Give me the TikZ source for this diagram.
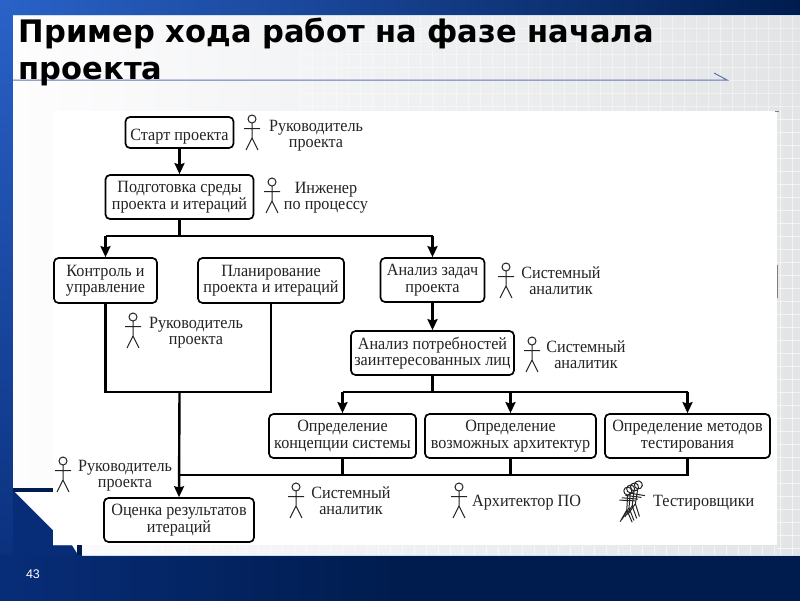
\documentclass[tikz,border=0pt]{standalone}
\usepackage{fontspec}
\setmainfont{Liberation Serif}[FakeStretch=0.94]
\newfontfamily\titlefont{DejaVu Sans}[FakeStretch=0.985]
\newfontfamily\numfont{Liberation Sans}
\usetikzlibrary{arrows.meta,calc}
\definecolor{ink}{RGB}{35,35,35}
\definecolor{navy}{RGB}{0,28,78}
\definecolor{royal}{RGB}{42,98,200}
\definecolor{midblue}{RGB}{8,45,120}
\definecolor{panelleft}{RGB}{253,253,254}
\definecolor{panelright}{RGB}{226,228,230}
\definecolor{edgelight}{RGB}{205,225,245}
\definecolor{rulecol}{RGB}{95,115,175}
\tikzset{
  x=1pt,y=-1pt,
  box/.style={draw=black,line width=1.7pt,rounded corners=4.5pt,fill=white,inner sep=0pt,align=center,text=ink,execute at begin node={\rule{0pt}{19pt}},font=\fontsize{17.2}{16.5}\selectfont},
  lab/.style={inner sep=0pt,align=center,text=ink,font=\fontsize{17.2}{16}\selectfont},
  conn/.style={draw=black,line width=2.4pt},
  arr/.style={conn,-{Stealth[length=11pt,width=10pt,inset=1.5pt]}},
  pics/actor/.style={code={
    \draw[ink,line width=1pt] (0,4) circle[radius=4pt];
    \draw[ink,line width=1pt] (0,8)--(0,23) (-8,13.5)--(8,13.5) (-6,35)--(0,23)--(6,35);
  }}
}
\begin{document}
\begin{tikzpicture}
\useasboundingbox (0,0) rectangle (800,600);
% background
\shade[left color=royal,right color=navy] (0,0) rectangle (800,15);
\shade[top color=royal,bottom color=midblue] (0,0) rectangle (13,600);
\shade[left color=midblue,right color=navy,middle color=navy] (0,555) rectangle (800,600);
\fill[midblue] (13,488) rectangle (82,555);
% panel
\shade[left color=panelleft,right color=panelright]
  (13,15)--(800,15)--(800,555)--(82,555)--(82,545)--(53,545)--(53,488)--(13,488)--cycle;
\foreach \gx in {300,312,...,800} \draw[white,line width=.8pt,opacity=.4] (\gx,15)--(\gx,111);
\foreach \gy in {28,41,...,111} \draw[white,line width=.8pt,opacity=.4] (300,\gy)--(800,\gy);
\foreach \gx in {780,792} \draw[white,line width=.8pt,opacity=.6] (\gx,111)--(\gx,555);
\foreach \gy in {119,132,...,555} \draw[white,line width=.8pt,opacity=.6] (777,\gy)--(800,\gy);
\foreach \gx in {90,102,...,780} \draw[white,line width=.8pt,opacity=.6] (\gx,546)--(\gx,555);
\draw[edgelight,line width=1pt] (82,555)--(800,555);
\draw[edgelight,line width=1pt] (13,15)--(800,15);
\fill[navy] (13,488) rectangle (53,492);
\fill[white] (53,111) rectangle (777,545);
% white tail under the left strip
\fill[white] (15,492)--(53,492)--(53,545)--(72,545)--(77,553)--(77,545)--(72,545)--(53,545)--(53,530)--cycle;
\fill[navy] (77,545) rectangle (82,555);
\draw[gray,line width=1pt] (777,265)--(777,298);
\draw[gray,line width=1pt] (775,111.5)--(779,111.5);
% title
\draw[rulecol,line width=1pt] (13,80)--(727,80)--(714,73);
\node[anchor=base west,inner sep=0pt,font=\titlefont\bfseries\fontsize{31}{36}\selectfont] (t1) at (18.5,42) {Пример хода работ на фазе начала};
\node[anchor=base west,inner sep=0pt,font=\titlefont\bfseries\fontsize{31}{36}\selectfont] (t2) at (18.5,79.5) {проекта};
\node[anchor=center,inner sep=0pt,text=white,font=\numfont\fontsize{12.5}{14}\selectfont] (num) at (33,574) {43};
% boxes
\node[box,execute at begin node={\rule{0pt}{15pt}},minimum width=108pt,minimum height=31pt] (start) at (179.5,132.5) {Старт проекта};
\node[box,minimum width=148pt,minimum height=44pt] (prep) at (179.5,197) {Подготовка среды\\проекта и итераций};
\node[box,minimum width=103pt,minimum height=45pt] (ctrl) at (105.5,280.5) {Контроль и\\управление};
\node[box,minimum width=146pt,minimum height=45pt] (plan) at (271,280.5) {Планирование\\проекта и итераций};
\node[box,minimum width=104pt,minimum height=44pt] (task) at (432.5,280) {Анализ задач\\проекта};
\node[box,minimum width=163pt,minimum height=44pt] (need) at (432.5,353) {Анализ потребностей\\заинтересованных лиц};
\node[box,minimum width=147pt,minimum height=44pt] (d1) at (342.5,436) {Определение\\концепции системы};
\node[box,minimum width=171pt,minimum height=44pt] (d2) at (510.5,436) {Определение\\возможных архитектур};
\node[box,minimum width=165pt,minimum height=44pt] (d3) at (687.5,436) {Определение методов\\тестирования};
\node[box,minimum width=150pt,minimum height=44pt] (eval) at (179,520) {Оценка результатов\\итераций};
% junctions
\coordinate (j1) at (179.5,236);
\coordinate (jc) at (105.5,236);
\coordinate (jt) at (432.5,236);
\coordinate (jl) at (105.5,392);
\coordinate (jr) at (271,392);
\coordinate (jm) at (179.5,392);
\coordinate (k0) at (432.5,392);
\coordinate (k1) at (342.5,392);
\coordinate (k2) at (510.5,392);
\coordinate (k3) at (687.5,392);
\coordinate (m0) at (179.5,475);
\coordinate (m1) at (342.5,475);
\coordinate (m2) at (510.5,475);
\coordinate (m3) at (687.5,475);
% connectors
\draw[arr] (start.south)--(prep.north);
\draw[conn] (prep.south)--(j1);
\draw[conn] (jc)--(jt);
\draw[arr] (jc)--(ctrl.north);
\draw[arr] (jt)--(task.north);
\draw[arr] (task.south)--(need.north);
\draw[conn] (ctrl.south)--(jl)--(jr)--(plan.south);
\draw[arr] (jm)--(eval.north);
\draw[conn] (need.south)--(k0);
\draw[conn] (k1)--(k3);
\draw[arr] (k1)--(d1.north);
\draw[arr] (k2)--(d2.north);
\draw[arr] (k3)--(d3.north);
\draw[conn] (d1.south)--(m1);
\draw[conn] (d2.south)--(m2);
\draw[conn] (d3.south)--(m3)--(m0);
% actors and labels
\pic at (252,115) {actor};
\node[lab] (l1) at (316,136) {Руководитель\\проекта};
\pic at (272,178) {actor};
\node[lab] (l2) at (326,198) {Инженер\\по процессу};
\pic at (506,263) {actor};
\node[lab] (l3) at (561,281) {Системный\\аналитик};
\pic at (133,313) {actor};
\node[lab] (l4) at (196,333) {Руководитель\\проекта};
\pic at (532,337) {actor};
\node[lab] (l5) at (586,355) {Системный\\аналитик};
\pic at (63,457) {actor};
\node[lab] (l6) at (125,476) {Руководитель\\проекта};
\pic at (296,483) {actor};
\node[lab] (l7) at (351,501) {Системный\\аналитик};
\pic at (459,483) {actor};
\node[lab,anchor=west] (l8) at (472,503) {Архитектор ПО};
\pic[rotate=-9] at (639,481) {actor};
\pic[rotate=-7] at (635,483) {actor};
\pic[rotate=-5] at (631,485) {actor};
\pic[rotate=-3] at (628,487) {actor};
\node[lab,anchor=west] (l9) at (653,503) {Тестировщики};
\end{tikzpicture}
\end{document}
